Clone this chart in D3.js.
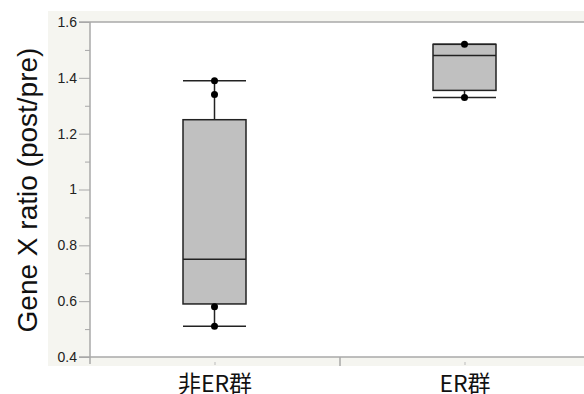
<!DOCTYPE html>
<html><head><meta charset="utf-8">
<script src="https://cdn.jsdelivr.net/npm/d3@7"></script>
<style>body{margin:0;background:#fff}svg{display:block}</style>
</head><body>
<script>
const categories = ["非ER群", "ER群"];
const q1 = [0.59, 1.355];
const median = [0.75, 1.48];
const q3 = [1.25, 1.52];
const whiskerLow = [0.51, 1.33];
const whiskerHigh = [1.39, 1.52];
const points = [[1.39, 1.34, 0.58, 0.51], [1.52, 1.33]];
const yTicks = [0.4, 0.6, 0.8, 1.0, 1.2, 1.4, 1.6];
const yMinor = [0.5, 0.7, 0.9, 1.1, 1.3, 1.5];
const yTitle = "Gene X ratio (post/pre)";

(function () {
const W = 584, H = 394;
const svg = d3.select("body").append("svg").attr("width", W).attr("height", H);
const pLeft = 90, pTop = 22, pBottom = 357, pRight = 590;

svg.append("rect").attr("x", 48).attr("y", 11).attr("width", W - 48).attr("height", 355).attr("fill", "#f5f5f0");
svg.append("rect").attr("x", pLeft).attr("y", pTop).attr("width", W - pLeft).attr("height", pBottom - pTop).attr("fill", "#fff");

const y = d3.scaleLinear().domain([0.4, 1.6]).range([pBottom, pTop]);
const x = d3.scaleBand().domain(categories).range([pLeft, pRight]);

const axisCol = "#a8a8a8";
svg.append("g").attr("transform", `translate(${pLeft},0)`)
  .call(d3.axisLeft(y).tickValues(yMinor).tickSize(5).tickFormat(""))
  .call(g => { g.select(".domain").remove(); g.selectAll("line").attr("stroke", axisCol); });
const ya = svg.append("g").attr("transform", `translate(${pLeft},0)`)
  .call(d3.axisLeft(y).tickValues(yTicks).tickSize(11).tickPadding(2).tickFormat(d => d === 1 ? "1" : d3.format(".1f")(d)));
ya.select(".domain").remove();
ya.selectAll("line").attr("stroke", axisCol);
ya.selectAll("text").attr("font-family", "Liberation Sans, Arial, sans-serif").attr("font-size", 14).attr("fill", "#222");

svg.append("line").attr("x1", pLeft).attr("x2", pLeft).attr("y1", pTop).attr("y2", 364).attr("stroke", axisCol).attr("stroke-width", 1.5);
svg.append("line").attr("x1", pLeft - 11).attr("x2", W).attr("y1", pTop).attr("y2", pTop).attr("stroke", axisCol).attr("stroke-width", 1.5);
svg.append("line").attr("x1", pLeft - 11).attr("x2", W).attr("y1", pBottom).attr("y2", pBottom).attr("stroke", axisCol).attr("stroke-width", 1.5);
svg.append("line").attr("x1", x("ER群")).attr("x2", x("ER群")).attr("y1", pBottom).attr("y2", 366).attr("stroke", axisCol).attr("stroke-width", 1.5);
categories.forEach(c => {
  const cx = x(c) + x.bandwidth() / 2;
  svg.append("line").attr("x1", cx).attr("x2", cx).attr("y1", 362).attr("y2", 365).attr("stroke", "#bbb").attr("stroke-width", 1);
});

svg.append("g").selectAll("text").data(categories).join("text")
  .attr("x", d => x(d) + x.bandwidth() / 2).attr("y", 392)
  .attr("text-anchor", "middle").attr("font-family", "Noto Sans CJK JP, sans-serif")
  .attr("font-size", 23).attr("fill", "#111").text(d => d);

svg.append("text").attr("transform", `translate(37,190) rotate(-90)`)
  .attr("text-anchor", "middle").attr("font-family", "Liberation Sans, Arial, sans-serif")
  .attr("font-size", 28).attr("fill", "#111").text(yTitle);

const bw = 63;
categories.forEach((c, i) => {
  const cx = x(c) + x.bandwidth() / 2 - 0.5;
  const g = svg.append("g");
  g.append("line").attr("x1", cx).attr("x2", cx).attr("y1", y(whiskerHigh[i])).attr("y2", y(q3[i])).attr("stroke", "#222").attr("stroke-width", 1.5);
  g.append("line").attr("x1", cx).attr("x2", cx).attr("y1", y(q1[i])).attr("y2", y(whiskerLow[i])).attr("stroke", "#222").attr("stroke-width", 1.5);
  g.append("rect").attr("x", cx - bw / 2).attr("y", y(q3[i])).attr("width", bw).attr("height", y(q1[i]) - y(q3[i]))
    .attr("fill", "#c0c0c0").attr("stroke", "#222").attr("stroke-width", 1.5);
  g.append("line").attr("x1", cx - bw / 2).attr("x2", cx + bw / 2).attr("y1", y(median[i])).attr("y2", y(median[i])).attr("stroke", "#222").attr("stroke-width", 1.5);
  [whiskerHigh[i], whiskerLow[i]].forEach(v => {
    g.append("line").attr("x1", cx - bw / 2).attr("x2", cx + bw / 2).attr("y1", y(v)).attr("y2", y(v)).attr("stroke", "#222").attr("stroke-width", 1.5);
  });
  g.selectAll("circle").data(points[i]).join("circle")
    .attr("cx", cx).attr("cy", d => y(d)).attr("r", 3.5).attr("fill", "#000");
});
})();
</script>
</body></html>
